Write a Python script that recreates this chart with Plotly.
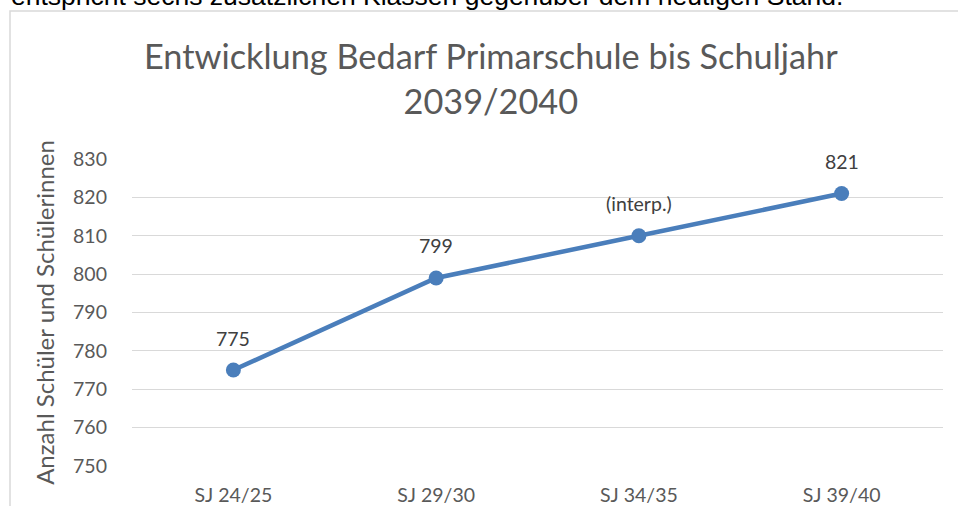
import plotly.graph_objects as go

categories = ["SJ 24/25", "SJ 29/30", "SJ 34/35", "SJ 39/40"]
values = [775, 799, 810, 821]
point_labels = ["775", "799", "(interp.)", "821"]
y_ticks = [750, 760, 770, 780, 790, 800, 810, 820, 830]

title_text = "Entwicklung Bedarf Primarschule bis Schuljahr<br>2039/2040"
y_title = "Anzahl Schüler und Schülerinnen"
top_text = "entspricht sechs zusätzlichen Klassen gegenüber dem heutigen Stand."

W, H = 958, 506
L, R, T, B = 132, 15, 159, 40
pw, ph = W - L - R, H - T - B

def px_x(x):
    return (x - L) / pw

def px_y(y):
    return (H - B - y) / ph

FONT = "Lato"
GREY = "#595959"
LINE = "#4a7ebb"

fig = go.Figure()
fig.add_trace(go.Scatter(
    x=categories, y=values, mode="lines+markers",
    line=dict(color=LINE, width=4.5),
    marker=dict(color=LINE, size=15),
    hoverinfo="skip", showlegend=False,
))

annotations = []
for c, v, t in zip(categories, values, point_labels):
    annotations.append(dict(x=c, y=v, xref="x", yref="y", text=t, showarrow=False,
                            yshift=32, font=dict(family=FONT, size=19.5, color="#404040")))

annotations.append(dict(x=px_x(491), y=px_y(78), xref="paper", yref="paper",
                        text=title_text, showarrow=False, xanchor="center", yanchor="middle",
                        font=dict(family=FONT, size=34.3, color=GREY)))
annotations.append(dict(x=px_x(9), y=px_y(13), xref="paper", yref="paper",
                        text=top_text, showarrow=False, xanchor="left", yanchor="bottom",
                        font=dict(family="Liberation Sans", size=26.5, color="#000000")))

fig.update_layout(
    width=W, height=H,
    margin=dict(l=L, r=R, t=T, b=B, autoexpand=False),
    paper_bgcolor="white", plot_bgcolor="white",
    annotations=annotations,
    shapes=[dict(type="rect", xref="paper", yref="paper",
                 x0=px_x(10), x1=px_x(990), y0=px_y(560), y1=px_y(11),
                 line=dict(color="#d9d9d9", width=1.5), layer="below")],
    xaxis=dict(type="category", showgrid=False, zeroline=False, automargin=False,
               showline=False, ticks="", range=[-0.5, 3.5],
               ticklabelstandoff=15,
               tickfont=dict(family=FONT, size=19.5, color=GREY)),
    yaxis=dict(range=[750, 830], tickvals=y_ticks, showgrid=True, automargin=False,
               gridcolor="#d9d9d9", gridwidth=1, zeroline=False, showline=False,
               ticks="", ticklabelstandoff=24,
               tickfont=dict(family=FONT, size=19.5, color=GREY),
               title=dict(text=y_title, standoff=11,
                          font=dict(family=FONT, size=24, color=GREY))),
)

fig.write_html("out.html", config={"displayModeBar": False},
               post_script="document.body.style.margin='0';document.body.style.overflow='hidden';")
